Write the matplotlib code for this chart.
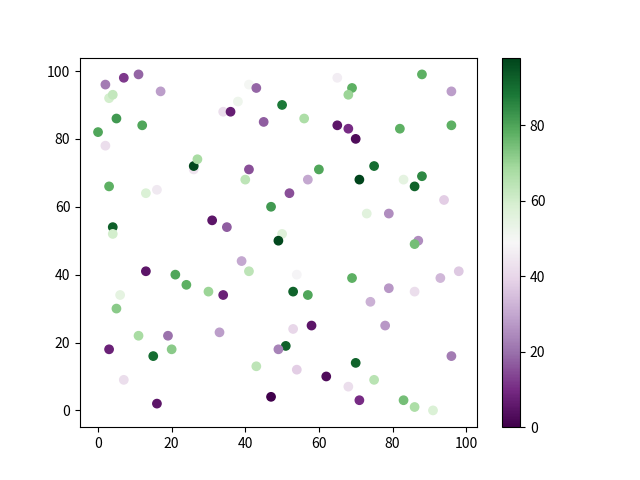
import matplotlib
matplotlib.use("Agg")
import matplotlib.pyplot as plt

plt.rcParams['font.family'] = ['Noto Sans CJK SC', 'DejaVu Sans']

# points, grouped by region
x = [2, 7, 11, 17, 3, 4, 0, 5, 12, 2, 26, 26, 27, 3,
     34, 36, 38, 41, 43, 45, 50, 56, 65, 65, 68, 69, 68, 70, 82, 88, 96, 96,
     41, 40, 60, 57, 75, 71, 83, 88, 86,
     13, 16, 31, 4, 4, 13, 21, 24, 30, 34, 6, 5,
     52, 47, 35, 50, 49, 39, 41, 54, 53, 57, 69,
     94, 73, 79, 87, 86, 98, 93, 79, 86, 74,
     11, 19, 3, 20, 15, 7, 16, 33,
     53, 58, 51, 49, 43, 54, 62, 68, 47,
     78, 96, 70, 75, 71, 83, 86, 91]
y = [96, 98, 99, 94, 92, 93, 82, 86, 84, 78, 71, 72, 74, 66,
     88, 88, 91, 96, 95, 85, 90, 86, 98, 84, 83, 95, 93, 80, 83, 99, 94, 84,
     71, 68, 71, 68, 72, 68, 68, 69, 66,
     64, 65, 56, 54, 52, 41, 40, 37, 35, 34, 34, 30,
     64, 60, 54, 52, 50, 44, 41, 40, 35, 34, 39,
     62, 58, 58, 50, 49, 41, 39, 36, 35, 32,
     22, 22, 18, 18, 16, 9, 2, 23,
     24, 25, 19, 18, 13, 12, 10, 7, 4,
     25, 16, 14, 9, 3, 3, 1, 0]
c = [22, 12, 18, 28, 60, 63, 80, 82, 80, 42, 44, 97, 68, 78,
     42, 7, 52, 50, 18, 17, 88, 67, 46, 5, 10, 78, 70, 3, 78, 78, 28, 78,
     15, 64, 80, 30, 90, 98, 55, 85, 92,
     58, 45, 5, 93, 60, 5, 80, 78, 70, 8, 55, 72,
     15, 82, 17, 57, 97, 30, 64, 48, 92, 80, 78,
     38, 56, 25, 25, 75, 37, 33, 27, 42, 32,
     68, 20, 8, 72, 90, 42, 5, 28,
     40, 5, 93, 23, 64, 38, 3, 42, 0,
     27, 22, 92, 65, 10, 75, 67, 58]

fig = plt.figure(figsize=(6.4, 4.8), dpi=100)
sc = plt.scatter(x, y, c=c, cmap='PRGn')
plt.colorbar(sc)
plt.savefig('out.png')
